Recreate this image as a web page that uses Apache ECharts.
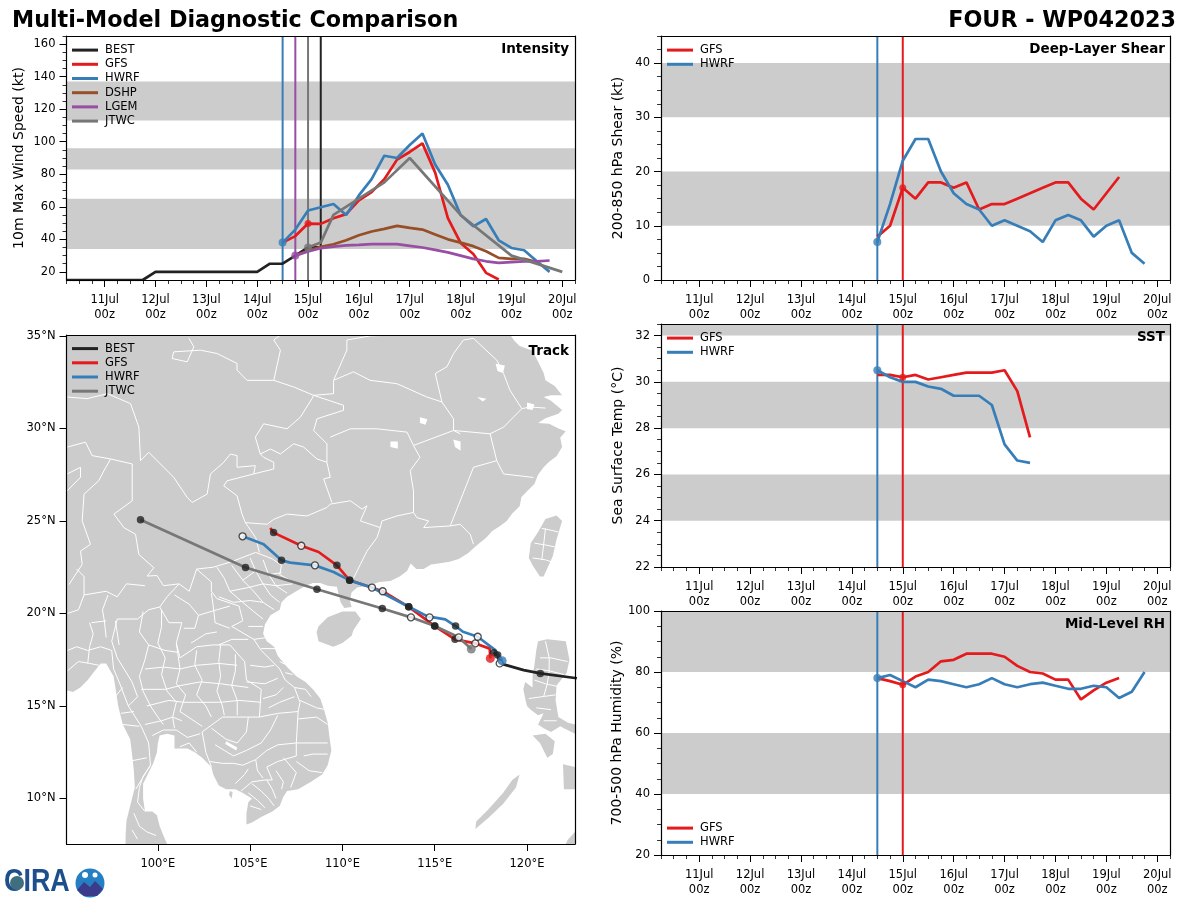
<!DOCTYPE html>
<html><head><meta charset="utf-8">
<style>html,body{margin:0;padding:0;background:#fff}#c{width:1200px;height:900px}</style>
<script src="https://cdn.jsdelivr.net/npm/echarts@6/dist/echarts.min.js"></script>
</head><body><div id="c"></div>
<script>
// ---------- values ----------
const dayTicks=[11,12,13,14,15,16,17,18,19,20];
const bestWind=[15,15,15,15,15,15,15,20,20,20,20,20,20,20,20,20,25,25,30,35,35];
const gfsWind=[38,42,49.7,49.5,53,55.5,64,69,77,89,93.7,99,81,53,37.8,31,19.4,15.3];
const hwrfWind=[38,46,57.7,59.7,61.7,55,67,77,91.4,90,98,105,86,73.6,55,48,52.5,39.4,34.7,33.3,26.5,20];
const dshpWind=[30,33,35.4,37,39.4,42.5,44.8,46.4,48.3,47,46,43,40,38,35.8,32.7,28.6,28,28,26];
const lgemWind=[30,32.5,34.5,35.5,36.3,36.6,37,37,37,36,35,33.5,32,30,28,26.5,25.5,26,26.5,26.5,27];
const jtwcDays=[15,15.25,15.5,16,16.5,17,18,19,20];
const jtwcWind=[35,38,55,65,75,90,55,30,20];
const gfsShear=[8,10,17,15,18,18,17,18,13,14,14,15,16,17,18,18,15,13,16,19];
const hwrfShear=[7,14,22,26,26,20,16,14,13,10,11,10,9,7,11,12,11,8,10,11,5,3];
const gfsSst=[30.3,30.3,30.2,30.3,30.1,30.2,30.3,30.4,30.4,30.4,30.5,29.6,27.6];
const hwrfSst=[30.5,30.2,30.0,30.0,29.8,29.7,29.4,29.4,29.4,29.0,27.3,26.6,26.5];
const gfsRh=[78,77,75.8,78.5,80,83.5,84,86,86,86,85,82,80,79.5,77.5,77.5,71,74,76.5,78];
const hwrfRh=[78,79,77,75,77.5,77,76,75,76,78,76,75,76,76.5,75.5,74.5,74.5,75.5,75,71.5,73.5,80];
const windBands=[[34,65],[83,96],[113,137]];
const shearBands=[[10,20],[30,40]];
const sstBands=[[24,26],[28,30],[32,32.5]];
const rhBands=[[40,60],[80,100]];
// tracks: lon, lat, marker (0 none, 1 filled, 2 open)
const bestTrack=[[122.7,16.5,0],[120.72,16.76,1],[119.82,16.94,0],[118.73,17.25,0],[118.52,17.3,2],[118.41,17.75,1],[118.19,17.88,1]];
const gfsTrack=[[118.01,17.57,0],[117.98,18.1,0],[117.2,18.38,2],[116.1,18.6,1],[115,19.32,1],[113.59,20.36,1],[112.18,21.2,2],[110.39,21.79,1],[109.7,22.6,1],[108.71,23.32,0],[107.77,23.66,2],[106.27,24.37,1],[106.09,24.62,0]];
const hwrfTrack=[[118.65,17.45,0],[118.28,18.02,0],[117.33,18.74,2],[116.53,19.01,0],[116.13,19.32,1],[115.57,19.68,0],[114.94,19.79,0],[114.72,19.79,2],[113.59,20.36,1],[111.6,21.4,2],[110.39,21.79,1],[109.52,22.24,0],[108.51,22.6,2],[107.17,22.75,0],[106.7,22.87,1],[105.73,23.74,0],[104.59,24.17,2]];
const jtwcTrack=[[116.98,18.08,0],[116.3,18.71,2],[115,19.32,1],[113.71,19.79,2],[112.16,20.27,1],[108.62,21.31,1],[104.75,22.48,1],[99.06,25.07,1]];
// land, lon/lat rings
const mainland=[[95.05,35.05],[119.1,35.05],[119.3,34.75],[119.6,34.45],[120.3,34.2],[120.6,33.6],[120.9,33],[121,32.6],[121.5,32.3],[121.9,31.8],[121.3,31.8],[120.9,31.7],[121.3,31.5],[121.9,31],[121.7,30.8],[121,30.55],[120.6,30.3],[121.2,30.25],[121.7,30],[122.1,29.85],[121.8,29.5],[121.9,29],[121.6,28.5],[121.2,28.2],[120.9,27.9],[120.6,27.5],[120.4,27],[120,26.6],[119.7,26.3],[119.6,25.8],[119.2,25.4],[118.9,25],[118.5,24.7],[118.1,24.45],[117.8,24.1],[117.3,23.7],[116.8,23.25],[116.3,22.95],[115.8,22.8],[115.2,22.7],[114.8,22.65],[114.4,22.4],[114,22.4],[113.7,22.7],[113.5,22.3],[113.1,22],[112.6,21.75],[112,21.7],[111.4,21.5],[110.8,21.4],[110.5,21.15],[110.4,20.7],[110.5,20.35],[110.1,20.3],[109.9,20.6],[109.8,21],[109.7,21.45],[109.2,21.5],[108.8,21.65],[108.4,21.65],[108,21.5],[107.5,21.2],[107,20.9],[106.7,20.6],[106.6,20.2],[106.1,19.9],[105.8,19.4],[105.7,18.9],[105.9,18.5],[106.3,18.2],[106.5,17.7],[107,17.1],[107.5,16.6],[108,16.3],[108.4,15.9],[108.8,15.4],[109,14.8],[109.2,14.1],[109.3,13.3],[109.4,12.6],[109.2,11.8],[108.9,11.3],[108.3,10.9],[107.6,10.5],[107,10.4],[106.8,10.1],[106.6,9.6],[106.2,9.3],[105.6,9],[105.1,8.7],[104.8,8.6],[104.8,9.2],[104.9,9.8],[105.1,10],[104.6,10.3],[104.2,10.5],[103.7,10.5],[103.3,10.7],[103,11.3],[102.9,11.7],[102.4,12.2],[102,12.5],[101.6,12.7],[100.9,12.7],[100.9,13.4],[100.5,13.5],[100.1,13.4],[100,13],[99.95,12.5],[99.75,11.9],[99.5,11.4],[99.2,10.8],[99.2,10],[99.3,9.3],[99.7,9.3],[99.95,9.1],[100.1,8.5],[100.3,8],[100.5,7.54],[98.25,7.54],[98.25,8],[98.3,8.8],[98.55,9.8],[98.75,10.6],[98.7,11.5],[98.6,12.4],[98.5,13.2],[98.1,14],[97.85,15],[97.7,16],[97.6,16.6],[97.2,17.3],[96.9,17.3],[96.5,16.8],[96.2,16.4],[95.8,16],[95.4,15.75],[95.05,15.85]];
const hainan=[[108.7,19.3],[109.2,19.8],[110,20.1],[110.7,20.1],[111,19.7],[110.6,19.1],[110.5,18.8],[110,18.4],[109.5,18.2],[108.7,18.5],[108.6,19]];
const taiwan=[[121,25.1],[121.6,25.3],[121.9,25],[121.6,24],[121.4,23.1],[120.9,22],[120.7,22],[120.3,22.6],[120.1,23],[120.2,23.8],[120.6,24.4]];
const luzon=[[120.6,18.5],[121.1,18.6],[122.1,18.5],[122.3,17.5],[122.15,16.8],[121.6,16.1],[121.55,15.3],[121.7,14.4],[122.2,14.1],[122.6,14],[122.6,13.5],[122,13.8],[121.8,13.9],[121.3,13.6],[120.9,13.8],[120.6,14],[120.9,14.6],[120.6,14.5],[120.2,14.8],[120,15],[119.9,15.4],[119.8,15.9],[119.9,16.3],[120.3,16],[120.3,16.6],[120.4,17.2],[120.5,18]];
const mindoro=[[120.3,13.4],[121,13.5],[121.5,13.1],[121.4,12.4],[121.1,12.2],[120.7,13]];
const palawan=[[117.2,8.35],[117.9,8.95],[118.7,9.7],[119.4,10.6],[119.6,11.3],[119.2,11],[118.7,10.3],[117.9,9.4],[117.25,8.75]];
const panay=[[121.95,11.85],[122.6,11.7],[122.6,10.5],[122,10.5]];
const mindanaoTip=[[122.6,8.2],[122.2,7.75],[122.1,7.54],[122.6,7.54]];
const phuQuoc=[[103.9,10.4],[104.05,10.35],[104,10],[103.85,10.2]];
const landRings=[mainland,hainan,taiwan,luzon,mindoro,palawan,panay,mindanaoTip,phuQuoc];
const lakes=[[[103.7,13.1],[104.3,12.75],[104.25,12.6],[103.65,12.95]],[[116,29.4],[116.4,29.3],[116.4,28.8],[116.1,29]],[[112.6,29.3],[113,29.3],[113,28.9],[112.6,29]],[[120,31.4],[120.4,31.3],[120.3,31],[120,31.05]],[[118.3,33.5],[118.8,33.4],[118.7,33],[118.4,33.1]],[[117.3,31.7],[117.8,31.6],[117.6,31.45]],[[114.2,30.6],[114.6,30.5],[114.5,30.2],[114.2,30.3]]];
const borders=[
[[95.09,31.7],[96.17,31.61],[97.26,31.88],[98.52,31.34],[98.97,30.07],[99.06,28.26],[99.51,28.71],[100.14,28.08],[100.86,27.36],[101.59,26.27],[101.86,26],[102.67,26.45],[102.85,27.54],[103.57,28.17],[103.93,28.62],[104.29,28.53],[104.29,27.9],[105.28,27.99],[105.19,27.54],[103.75,27.17],[103.57,26.9],[104.29,26.36],[104.56,25.37],[104.74,24.91],[105.92,24.82],[106.28,25.09],[107,25.37],[108.08,25.27],[109.16,25.73],[109.34,25.91],[110.43,26.09],[111.06,25.64],[111.33,25.82],[110.97,25],[112.05,24.64],[111.87,24.1],[111.33,23.37],[110.97,22.65],[110.6,21.9]],
[[112.05,24.64],[112.14,25],[112.95,25.27],[113.85,25.46],[114.03,25.18],[114.67,25],[114.4,24.64],[115.84,24.73],[116.38,24.82],[116.92,24.28],[117.1,23.74]],
[[105.19,27.54],[106.28,27.81],[106.28,28.17],[105.73,28.44],[105.55,28.62],[106.1,28.89],[106.64,28.62],[107.36,29.17],[107.9,28.99],[108.62,28.35],[109.16,28.17],[109.34,27.36],[108.98,27.27],[109.43,26]],
[[105.55,28.62],[105.28,29.53],[105.73,30.25],[107,29.98],[107.72,30.61],[108.35,31.61],[108.44,31.79],[110.06,31.25],[110.06,30.98],[108.62,30.52],[108.44,29.89],[109.16,29.17],[109.16,28.17]],
[[108.44,31.79],[107.36,32.24],[106.28,32.6],[104.83,32.6],[104.29,33.15],[104.29,33.51],[103.21,34.05],[102.31,34.23],[100.86,34.14],[100.77,33.78],[101.59,33.6],[101.95,34.41],[101.68,34.87]],
[[106.28,32.6],[106.64,34.23],[106.28,34.78],[106.64,35.05]],
[[108.44,31.79],[109.52,31.88],[109.52,32.6],[110.24,34.23],[110.24,34.78],[111.5,35],[112.6,35.05]],
[[109.52,32.6],[110.6,33.06],[111.5,32.6],[112.95,32.42],[114.57,31.7],[115.39,31.43],[116.02,30.52],[116.02,29.89],[116.38,29.71]],
[[115.39,31.43],[115.03,32.97],[115.66,33.33],[116.02,34.05],[116.56,34.78],[117.1,34.87],[118.36,33.69],[118.73,32.97],[119.08,32.06],[119.72,31.07],[120.2,31.16],[121,31.1]],
[[116.02,29.89],[118,29.71],[118.73,30.07],[119.72,31.07]],
[[109.34,29.53],[110.43,29.98],[111.87,29.98],[113.5,29.8],[113.85,29.08],[116.02,29.89]],
[[113.85,29.08],[114.2,28.44],[113.67,27.72],[113.85,26.63],[113.85,25.46]],
[[118,29.71],[118.36,28.26],[117.1,27.9],[116.74,26.99],[115.84,24.73]],
[[118.36,28.26],[118.73,27.54],[120.35,27.35]],
[[95.09,28.99],[96.08,29.26],[96.44,28.53],[97.44,28.35],[98.61,28.08],[98.61,26.09],[97.62,25.37],[98.16,24.64],[98.79,24.28],[98.97,23.19],[99.78,22.47],[99.42,22.02],[99.95,22.05],[100.3,21.5],[101.15,21.6],[101.7,21.2],[102.1,22.4],[103,22.5],[104,22.8],[105.3,23.3],[106.2,22.95],[106.7,22.6],[106.6,22.1],[107.4,21.65],[108,21.55]],
[[104.74,24.91],[105.3,24.1],[105.5,23.3]],
[[97.44,28.35],[97.07,27.7],[96.8,27.18],[96,26.45],[95.9,25],[96.35,23.74],[95.81,23.37],[95.9,22.65],[95.18,21.56]],
[[95.09,27.54],[95.81,27.9],[95.81,27.36],[95.09,26.63]],
[[101.15,21.6],[100.5,20.9],[100.1,20.35],[99.5,20.2],[98.9,19.7],[97.8,19.7],[97.5,18.5],[97.8,17.6],[98.6,16.3],[98.9,15.5],[98.4,15],[99.1,13.9],[99.5,13],[99.6,11.8],[98.8,10.5]],
[[100.1,20.35],[100.6,19.5],[101.3,19.5],[101,18.4],[101.2,17.6],[102.1,18.2],[103,18.3],[103.9,18.3],[104.7,17.4],[104.8,16.4],[105.6,15.9],[105.5,14.4]],
[[102.1,22.4],[102.9,21.7],[102.9,21.2],[103.2,20.8],[104.4,20.4],[104.6,19.6],[104,19.3],[105.2,18.6],[105.6,18],[106.6,17],[106.9,16.4],[107.4,16],[107.7,15.2],[107.6,14.7]],
[[105.5,14.4],[106.5,14.6],[107.6,14.7],[107.5,13],[107.5,12.3],[106.5,12],[105.9,11.7],[106.2,11],[105.8,11],[105.1,10.9],[104.5,10.4]],
[[105.5,14.4],[104.8,14.4],[103.5,14.4],[102.4,13.6],[102.6,12.5],[102.9,11.7]],
[[99.2,20.1],[99,19],[99.5,18.3],[99.3,17.5],[99,16.6],[99.2,15.8],[99.6,15],[100,14.4],[100.3,14]],
[[100.2,20.2],[100.2,19.3],[100,18.4],[100.4,17.6],[100.2,16.7],[100.5,15.8],[101,15.2],[100.8,14.4],[100.9,13.8]],
[[101,18.4],[101.2,17],[101,16.2],[101.5,15.6],[101.2,14.7],[101.8,14.3],[102.4,13.9]],
[[102.1,18],[102,17.2],[102.4,16.4],[102.1,15.6],[102.6,15],[102.9,14.4]],
[[103.4,18.3],[103.3,17.4],[103.4,16.6],[103.2,15.8],[103.5,15],[103.6,14.5]],
[[104.2,17.8],[104.2,16.9],[104,16.1],[104.3,15.3],[104.3,14.5]],
[[99.5,18.3],[100.4,18],[101.1,17.9]],
[[99.3,17],[100.3,17.1],[101.2,17],[102.1,17.2],[103.3,17.3],[104.3,17.2]],
[[99.1,15.9],[100.4,15.9],[101.2,16.1],[102.3,16.3],[103.4,16.2],[104.9,16]],
[[99.4,15],[100.6,15.3],[101.4,15.2],[102.1,15.2],[103.4,15.2],[104.4,15.3],[105.6,15.2]],
[[99.3,14],[100.2,14.2],[100.8,14.4],[101.3,14.2]],
[[99.7,13.4],[100.3,13.7],[101,13.7],[101.6,13.3],[102.3,13.5]],
[[101.2,12.8],[101.7,13],[102.1,12.5]],
[[99.6,11.8],[99.2,11.2],[99,10.6],[98.9,9.8],[99.3,9.3]],
[[98.7,9.2],[99,8.5],[99.4,8.2],[99.9,8]],[[98.6,8.3],[98.9,7.8]],
[[95.1,20],[95.7,20.2],[96,21],[96,22],[95.6,22.4]],
[[96,21],[97.2,21.2],[97.8,20.9],[98.3,21.6],[99.3,21.5]],
[[96.3,19.5],[96.5,18.9],[96.3,18.2],[96.2,17.3]],
[[95.1,18],[95.6,18.2],[96.2,18],[96.9,18.2]],
[[95.1,16.9],[95.7,17.4],[96.3,17.3],[96.8,17.2]],
[[97.2,18.7],[97.1,19.6],[97,20.2],[97.3,21]],
[[96.4,19.5],[97.2,19.6]],[[97.7,19.6],[97.9,18.3]],
[[96.9,18.2],[97.5,18],[97.6,17],[97.9,16.3],[98.4,15]],
[[97.6,15.4],[98.1,16]],[[98,14.6],[98.7,14.7]],[[98.1,14],[99,13.9]],[[98.4,12],[99.4,12.2]],
[[103.2,22.5],[103.6,21.9],[103.9,21.2],[104.6,20.6],[105.2,20.1],[105.7,19.7]],
[[104,22.6],[104.6,21.8],[105.1,21.3],[105.7,20.6],[106.3,20.2]],
[[105,23],[105.3,22.3],[105.7,21.6],[106.1,21],[106.6,20.6]],
[[105.7,22.9],[106,22.1],[106.4,21.5],[107,21.1]],
[[104.6,21.8],[105.3,22.3],[106,22.1],[106.7,22.2]],
[[103.9,21.2],[104.9,21.4],[105.7,21.6],[106.4,21.5],[107.3,21.6]],
[[103.3,20.9],[104.1,20.6],[105,20.7],[105.7,20.6]],
[[104.9,19.3],[105.7,19.3]],[[105.2,18.6],[105.9,18.7]],[[105.6,18.1],[106.4,18.1]],[[106.6,17.4],[107,17.2]],[[106.9,16.8],[107.3,16.7]],
[[107.4,16],[108,15.9],[108.3,15.5]],[[107.7,15.3],[108.6,14.9],[109.1,14.8]],[[107.6,14.3],[108.6,14.4],[109.2,14]],
[[107.5,13],[108.5,13],[109.2,13]],[[107.9,12.3],[108.4,12.4],[109.2,12.4]],[[107.5,12],[108.2,11.5],[108.9,11.4]],
[[106.8,12.2],[107.5,11.4],[107.2,10.6]],[[106.4,11.5],[106.8,10.9],[106.7,10.5]],[[105.9,11],[106.2,10.5],[106.4,10]],
[[105.1,10.8],[105.6,10.4],[106,10],[106.3,9.6]],[[104.9,10.3],[105.4,9.9],[105.8,9.5]],[[105,9.6],[105.6,9.4]],
[[100.9,21],[101.7,20.5],[102.2,19.9],[102,19.2],[101.4,19.2]],[[102.2,19.9],[103.2,20.2],[103.9,20.4]],
[[102.9,21.1],[103,20.4],[103.1,19.5],[103.9,19.2]],[[101.8,18.4],[102.6,18.9],[103.2,19]],[[103.3,18.3],[104,18.6],[104.9,18.6]],
[[105,17.2],[105.8,17.1],[106.3,17.2]],[[104.8,16.3],[105.8,16.2],[106.5,16.5]],[[105.7,15.4],[106.4,15.6],[106.8,16]],[[106,14.9],[106.6,15.2],[107.4,15.5]],
[[102.9,13.8],[103.7,13.2],[104.3,13],[104.8,13.6],[104.9,14.4]],
[[103.1,12.9],[103.6,12.6],[104.1,12.3],[104.8,12.6],[105.6,13],[106.1,13.7],[106.5,14.5]],
[[102.8,12],[103.5,11.9],[104.1,11.9],[104.6,11.8],[105.3,12.1],[105.9,12.6],[106.5,12.9],[107.5,13]],
[[104.2,10.8],[104.7,11.3],[104.9,11.6]],[[105.3,12.1],[105.4,11.5],[105.7,11.1]],
[[120.7,17.6],[121.3,17.6],[122.2,17.4]],[[120.5,17],[121.2,16.9],[122,16.7]],[[120.4,16.4],[121,16.2],[121.9,16]],
[[121,18.5],[121.2,17.6],[121.2,16.9],[121.1,16.2],[120.9,15.5]],[[120.1,15.4],[120.8,15.5],[121.55,15.6]],[[120.5,14.9],[121.3,14.8]],[[120.9,14.2],[121.6,14.2]],
[[120.8,24.6],[121.3,24.5],[121.7,24.4]],[[120.4,23.8],[121,23.7],[121.5,23.6]],[[120.3,23],[121,22.9],[121.3,22.8]],[[121,24.6],[120.9,23.7],[120.8,22.9]]
];
const mainTitle='Multi-Model Diagnostic Comparison', stormTitle='FOUR - WP042023';
const lonTicks=[100,105,110,115,120], latTicks=[10,15,20,25,30,35];
const COL={BEST:'#222222',GFS:'#e41a1c',HWRF:'#377eb8',DSHP:'#964f26',LGEM:'#984ea3',JTWC:'#777777'};
const FONT='"DejaVu Sans"';
// ---------- layout helpers ----------
const XR=[10.25,20.25];
const quarter=[];for(let d=XR[0];d<=XR[1];d+=0.25)quarter.push(d);
const grids=[
 {left:66.5,top:36,width:508.5,height:244},
 {left:661,top:36,width:509,height:244},
 {left:66.5,top:335,width:508.5,height:509},
 {left:661,top:324,width:509,height:243},
 {left:661,top:611,width:509,height:244}];
const xAxes=[],yAxes=[],series=[];
const lineBase={show:true,lineStyle:{color:'#000',width:1.2},onZero:false};
function range(a,b,s){const r=[];for(let v=a;v<=b+1e-9;v+=s)r.push(+v.toFixed(4));return r;}
function addAxes(g,xr,yr,xt,yt,xfmt,yfmt,xm,ym,name,gap){
 const common={type:'value',gridIndex:g,splitLine:{show:false},z:20};
 xAxes.push({...common,min:xr[0],max:xr[1],position:'bottom',axisLine:lineBase,
  axisTick:{show:true,customValues:xt,length:7,lineStyle:{color:'#000',width:1}},
  axisLabel:{show:true,customValues:xt,formatter:xfmt,color:'#000',fontFamily:FONT,fontSize:11.5,lineHeight:15,margin:13,hideOverlap:false}});
 xAxes.push({...common,min:xr[0],max:xr[1],position:'top',axisLine:lineBase,axisTick:{show:false},axisLabel:{show:false}});
 xAxes.push({...common,min:xr[0],max:xr[1],position:'bottom',axisLine:{show:false},
  axisTick:{show:!!xm,customValues:xm||[],length:4,lineStyle:{color:'#000',width:.8}},axisLabel:{show:false}});
 yAxes.push({...common,min:yr[0],max:yr[1],position:'left',axisLine:lineBase,name:name||'',nameLocation:'middle',nameGap:gap||40,
  nameTextStyle:{fontFamily:FONT,fontSize:14,color:'#000'},
  axisTick:{show:true,customValues:yt,length:7,lineStyle:{color:'#000',width:1}},
  axisLabel:{show:true,customValues:yt,formatter:yfmt,color:'#000',fontFamily:FONT,fontSize:11.5,margin:11,lineHeight:16,padding:[4,0,0,0],hideOverlap:false}});
 yAxes.push({...common,min:yr[0],max:yr[1],position:'right',axisLine:lineBase,axisTick:{show:false},axisLabel:{show:false}});
 yAxes.push({...common,min:yr[0],max:yr[1],position:'left',axisLine:{show:false},
  axisTick:{show:!!ym,customValues:ym||[],length:4,lineStyle:{color:'#000',width:.8}},axisLabel:{show:false}});
}
const dayFmt=v=>Math.round(v)+'Jul\n00z';
const ids=g=>({xAxisIndex:g*3,yAxisIndex:g*3});
function bands(g,list){
 series.push({type:'custom',...ids(g),z:1,silent:true,clip:true,data:list,encode:{y:[0,1]},
  renderItem(p,api){const cs=p.coordSys;
   const a=api.coord([XR[0],api.value(0)])[1],b=api.coord([XR[0],api.value(1)])[1];
   return {type:'rect',shape:{x:cs.x,y:b,width:cs.width,height:a-b},style:{fill:'#cccccc'}};}});
}
function line(g,name,start,vals,days){
 series.push({type:'line',name,...ids(g),z:5,color:COL[name],showSymbol:false,symbol:'none',silent:true,clip:true,animation:false,
  lineStyle:{color:COL[name],width:2.7},
  data:vals.map((v,i)=>[days?days[i]:start+i*0.25,v])});
}
function dot(g,name,x,y,size){
 series.push({type:'scatter',...ids(g),z:7,symbol:'circle',symbolSize:size||8,silent:true,animation:false,
  itemStyle:{color:COL[name]},data:[[x,y]]});
}
function vline(g,name,x,yr,w){
 series.push({type:'line',...ids(g),z:4,symbol:'none',silent:true,animation:false,
  lineStyle:{color:COL[name],width:w||2},data:[[x,yr[0]],[x,yr[1]]]});
}
function panelLabel(text,right,top){return {text,right,top,padding:0,textStyle:{fontFamily:FONT,fontWeight:'bold',fontSize:13.5,color:'#000'}};}
function legend(g,names,left,top){
 return {gridIndex:g,data:names,left,top,orient:'vertical',icon:'rect',itemWidth:26,itemHeight:3,itemGap:0,padding:0,selectedMode:false,
  backgroundColor:'transparent',textStyle:{fontFamily:FONT,fontSize:11.5,color:'#000',lineHeight:14.2,padding:[0,0,0,2]}};
}
// ---------- panels ----------
const yInt=[15,165],yShear=[0,45],ySst=[22,32.5],yRh=[20,100];
addAxes(0,XR,yInt,dayTicks,range(20,160,20),dayFmt,v=>v,quarter,range(20,165,5),'10m Max Wind Speed (kt)',40);
addAxes(1,XR,yShear,dayTicks,range(0,40,10),dayFmt,v=>v,quarter,range(0,45,2.5),'200-850 hPa Shear (kt)',36);
addAxes(2,[95.05,122.6],[7.54,35.05],lonTicks,latTicks,v=>v+'°E',v=>v+'°N',null,null);
addAxes(3,XR,ySst,dayTicks,range(22,32,2),dayFmt,v=>v,quarter,range(22,32.5,.5),'Sea Surface Temp (°C)',36);
addAxes(4,XR,yRh,dayTicks,range(20,100,20),dayFmt,v=>v,quarter,range(20,100,5),'700-500 hPa Humidity (%)',36);

bands(0,windBands);
vline(0,'HWRF',14.5,yInt);vline(0,'LGEM',14.75,yInt);vline(0,'JTWC',15,yInt);vline(0,'BEST',15.25,yInt);
line(0,'BEST',10.25,bestWind);line(0,'GFS',14.5,gfsWind);line(0,'HWRF',14.5,hwrfWind);line(0,'DSHP',14.75,dshpWind);line(0,'LGEM',14.75,lgemWind);line(0,'JTWC',0,jtwcWind,jtwcDays);
dot(0,'GFS',15,gfsWind[2],7);dot(0,'HWRF',14.5,hwrfWind[0]);dot(0,'LGEM',14.75,lgemWind[0]);dot(0,'JTWC',15,jtwcWind[0]);

[[1,shearBands,yShear,gfsShear,hwrfShear],[3,sstBands,ySst,gfsSst,hwrfSst],[4,rhBands,yRh,gfsRh,hwrfRh]].forEach(([g,b,yr,gv,hv])=>{
 bands(g,b);
 vline(g,'HWRF',14.5,yr);vline(g,'GFS',15,yr);
 line(g,'GFS',14.5,gv);line(g,'HWRF',14.5,hv);
 dot(g,'GFS',15,gv[2],7);dot(g,'HWRF',14.5,hv[0]);
});

// track map
series.push({type:'custom',...ids(2),z:1,silent:true,clip:true,animation:false,data:landRings.map((_,i)=>[i]),encode:{x:0},
 renderItem(p,api){return {type:'polygon',shape:{points:landRings[p.dataIndex].map(c=>api.coord(c))},style:{fill:'#cccccc'}};}});
series.push({type:'custom',...ids(2),z:2,silent:true,clip:true,animation:false,data:lakes.map((_,i)=>[i]),encode:{x:0},
 renderItem(p,api){return {type:'polygon',shape:{points:lakes[p.dataIndex].map(c=>api.coord(c))},style:{fill:'#ffffff'}};}});
series.push({type:'custom',...ids(2),z:3,silent:true,clip:true,animation:false,data:borders.map((_,i)=>[i]),encode:{x:0},
 renderItem(p,api){return {type:'polyline',shape:{points:borders[p.dataIndex].map(c=>api.coord(c))},style:{stroke:'#ffffff',fill:null,lineWidth:1}};}});
function track(name,pts){
 series.push({type:'line',name,...ids(2),z:5,color:COL[name],symbol:'none',silent:true,clip:true,animation:false,smooth:false,
  lineStyle:{color:COL[name],width:2.7},data:pts.map(p=>[p[0],p[1]])});
 series.push({type:'scatter',...ids(2),z:7,symbol:'circle',symbolSize:7.5,silent:true,animation:false,
  itemStyle:{color:'#222222'},data:pts.filter(p=>p[2]===1).map(p=>[p[0],p[1]])});
 series.push({type:'scatter',...ids(2),z:7,symbol:'circle',symbolSize:7,silent:true,animation:false,
  itemStyle:{color:'#ffffff',borderColor:'#222222',borderWidth:1.3},data:pts.filter(p=>p[2]===2).map(p=>[p[0],p[1]])});
}
track('BEST',bestTrack);track('GFS',gfsTrack);track('HWRF',hwrfTrack);track('JTWC',jtwcTrack);
dot(2,'GFS',gfsTrack[0][0],gfsTrack[0][1],9);dot(2,'HWRF',hwrfTrack[0][0],hwrfTrack[0][1],9);dot(2,'JTWC',jtwcTrack[0][0],jtwcTrack[0][1],9);

const option={
 animation:false,backgroundColor:'#fff',
 grid:grids.map(g=>({...g,containLabel:false,show:false})),
 xAxis:xAxes,yAxis:yAxes,series,
 title:[
  {text:mainTitle,left:12,top:10,padding:0,textStyle:{fontFamily:FONT,fontWeight:'bold',fontSize:22.25,color:'#000'}},
  {text:stormTitle,right:24,top:10,padding:0,textStyle:{fontFamily:FONT,fontWeight:'bold',fontSize:22.25,color:'#000'}},
  panelLabel('Intensity',631,42),panelLabel('Deep-Layer Shear',35,42),panelLabel('Track',631,344),panelLabel('SST',35,330),panelLabel('Mid-Level RH',35,617)
 ],
 legend:[
  {names:['BEST','GFS','HWRF','DSHP','LGEM','JTWC'],l:72,t:43},
  {names:['GFS','HWRF'],l:667,t:43},
  {names:['BEST','GFS','HWRF','JTWC'],l:72,t:341.5},
  {names:['GFS','HWRF'],l:667,t:331},
  {names:['GFS','HWRF'],l:667,t:821}
 ].map((o,i)=>legend(i,o.names,o.l,o.t)),
 graphic:{elements:[
  {type:'text',left:4,top:866,z:50,scaleX:.84,style:{text:'CIRA',fill:'#1e4f8c',font:'bold 32px "Liberation Sans"'}},
  {type:'circle',shape:{cx:17,cy:883,r:7},z:51,style:{fill:'#3f6f7f'}},
  {type:'circle',shape:{cx:90,cy:883,r:14.5},z:50,style:{fill:'#2580c3'}},
  {type:'polygon',shape:{points:[[77,890],[84,882],[90,887],[95,881],[103,889],[97,896],[84,896]]},z:51,style:{fill:'#3c3a8a'}},
  {type:'circle',shape:{cx:85,cy:875,r:3},z:51,style:{fill:'#fff'}},
  {type:'circle',shape:{cx:95,cy:875,r:2.5},z:51,style:{fill:'#fff'}}
 ]}
};
echarts.init(document.getElementById('c'),null,{renderer:'canvas'}).setOption(option);
</script></body></html>
